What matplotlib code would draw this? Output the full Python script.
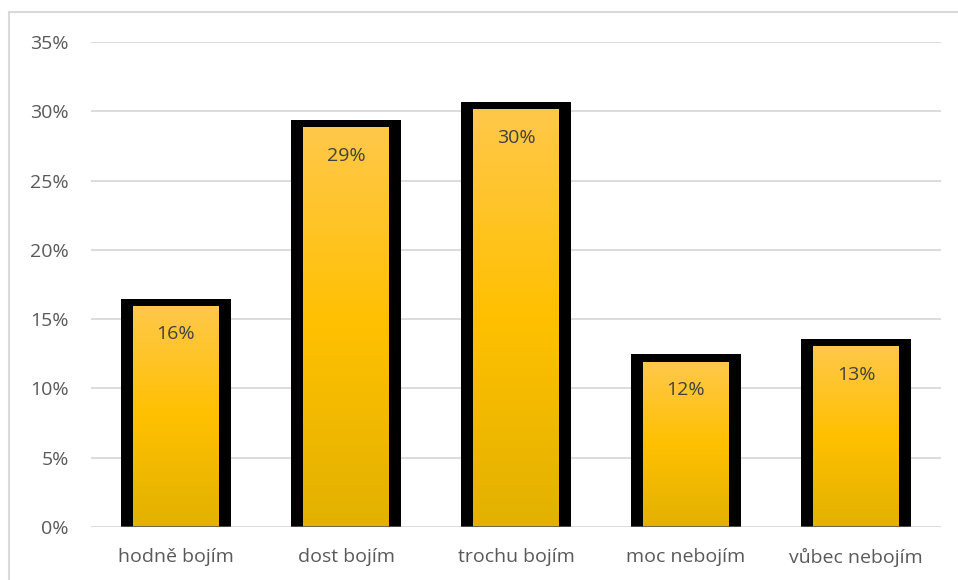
import numpy as np
import matplotlib
matplotlib.use('Agg')
import matplotlib.pyplot as plt
from matplotlib.colors import LinearSegmentedColormap
from matplotlib.patches import Rectangle
from matplotlib.ticker import PercentFormatter

categories = ['hodně bojím', 'dost bojím', 'trochu bojím', 'moc nebojím', 'vůbec nebojím']
values = [0.159, 0.288, 0.301, 0.119, 0.130]
yticks = [0, 0.05, 0.10, 0.15, 0.20, 0.25, 0.30, 0.35]

plt.rcParams['font.family'] = ['Open Sans', 'DejaVu Sans']

fig = plt.figure(figsize=(9.58, 5.8), dpi=100)
ax = fig.add_axes([91/958, 1-527/580, (941-91)/958, (527-42)/580])

# gradient like the excel fill: light top, gold middle, darker bottom
cmap = LinearSegmentedColormap.from_list('gold', ['#e2b100', '#ffc000', '#ffc84a'])
grad = np.linspace(0, 1, 256).reshape(-1, 1)

x = np.arange(len(categories))
outer_w = 110/170
inner_w = 86/170
top_border = 8/13.86/100

for xi, v in zip(x, values):
    ax.bar(xi, v + top_border, width=outer_w, color='black', zorder=2)
    ax.imshow(grad, cmap=cmap, origin='lower', aspect='auto',
              extent=(xi - inner_w/2, xi + inner_w/2, 0, v), zorder=3)
    ax.hlines(0, xi - outer_w/2, xi + outer_w/2, color='#595959', lw=1.2, zorder=4)
    ax.text(xi, v - 0.02, f'{v*100:.0f}%', ha='center', va='center',
            fontsize=14, color='#404040', zorder=5)

ax.set_xlim(-0.5, len(categories) - 0.5)
ax.set_ylim(0, 0.35)
ax.set_yticks(yticks)
ax.yaxis.set_major_formatter(PercentFormatter(1.0, decimals=0))
ax.set_xticks(x)
ax.set_xticklabels(categories)
ax.grid(axis='y', color='#d9d9d9', lw=1.3, zorder=0)
ax.set_axisbelow(True)
for s in ax.spines.values():
    s.set_visible(False)
ax.tick_params(axis='both', length=0, labelsize=14, labelcolor='#595959')
ax.tick_params(axis='y', pad=16)
ax.tick_params(axis='x', pad=15)

fig.patches.append(Rectangle((9/958, -0.1), 1.2, 1 - 12/580 + 0.1, transform=fig.transFigure,
                             fill=False, edgecolor='#d9d9d9', lw=1.5))

fig.savefig('out.png', dpi=100)
